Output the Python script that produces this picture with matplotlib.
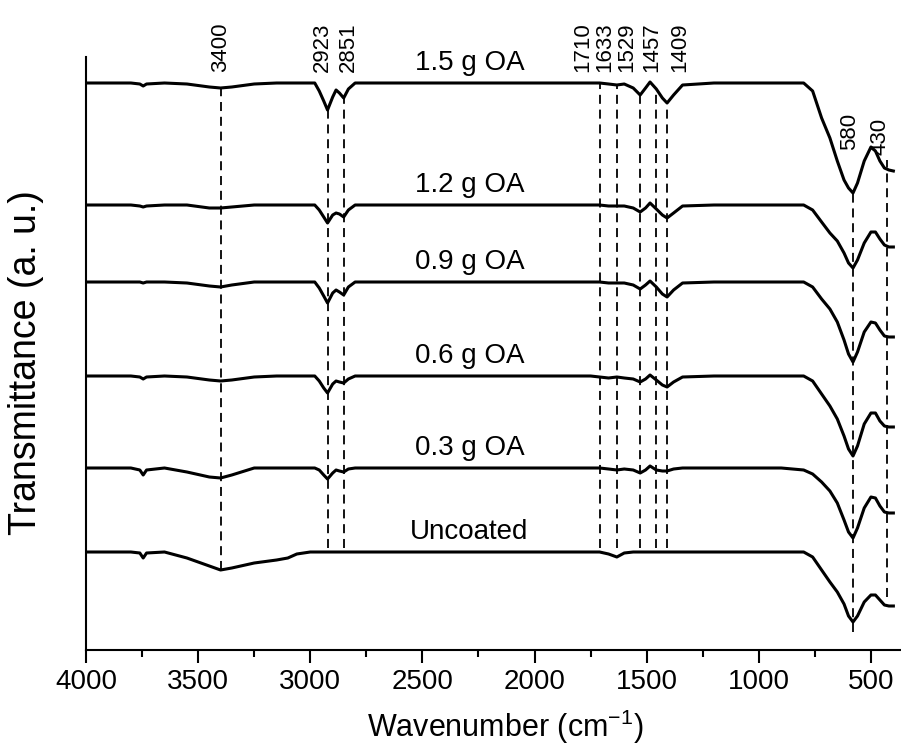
import numpy as np
import matplotlib.pyplot as plt
from matplotlib.ticker import MultipleLocator

plt.rcParams['font.family'] = ['Liberation Sans', 'DejaVu Sans']

wn = [4000, 3800, 3760, 3745, 3730, 3650, 3550, 3450, 3400, 3350, 3250, 3150, 3100,
      3060, 3000, 2980, 2960, 2940, 2923, 2900, 2885, 2870, 2851, 2830, 2800, 2700,
      2000, 1750, 1710, 1670, 1633, 1600, 1560, 1529, 1505, 1485, 1457, 1430, 1409,
      1380, 1340, 1200, 900,
      800, 760, 720, 683, 650, 620, 600, 580, 560, 530, 500, 480, 460, 440, 420, 400]

# absorption depth below each baseline (a. u.)
depth_15 = [0, 0, 1, 3, 1, 0, 1, 4, 5, 4, 1, 0, 0,
            0, 0, 0, 8, 18, 27, 14, 7, 10, 15, 6, 0, 0,
            0, 0, 0, 1, 2, 1, 5, 12, 5, -1, 6, 15, 20,
            12, 2, 0, 0,
            0, 8, 35, 55, 78, 97, 105, 110, 100, 78, 64, 68, 78, 85, 87, 88]
depth_12 = [0, 0, 1, 2, 1, 0, 0, 3, 3, 2, 0, 0, 0,
            0, 0, 0, 5, 12, 18, 10, 8, 9, 12, 5, 0, 0,
            0, 0, 0, 1, 1, 1, 3, 7, 3, -2, 4, 10, 13,
            8, 1, 0, 0,
            0, 5, 17, 28, 36, 48, 58, 63, 55, 38, 27, 27, 34, 40, 42, 42]
depth_09 = [0, 0, 0, 1, 0, 0, 1, 4, 5, 3, 0, 0, 0,
            0, 0, 0, 6, 14, 21, 11, 8, 10, 13, 5, 0, 0,
            0, 0, 0, 1, 1, 1, 3, 7, 3, -1, 5, 12, 15,
            8, 1, 0, 0,
            0, 5, 17, 27, 40, 58, 72, 80, 70, 50, 40, 41, 48, 54, 55, 55]
depth_06 = [0, 0, 1, 3, 1, 0, 1, 4, 5, 4, 1, 0, 0,
            0, 0, 0, 5, 12, 17, 8, 5, 6, 7, 3, 0, 0,
            0, 0, 1, 2, 1, 2, 3, 6, 3, -1, 4, 9, 11,
            6, 1, 0, 0,
            0, 5, 18, 30, 43, 60, 73, 80, 70, 48, 37, 37, 45, 50, 51, 51]
depth_03 = [0, 0, 2, 7, 2, 0, 4, 9, 10, 7, 0, 0, 0,
            0, 0, 0, 2, 7, 11, 5, 2, 3, 4, 1, 0, 0,
            0, 0, 0, 1, 2, 1, 2, 5, 2, -2, 2, 3, 3,
            1, 0, 0, 0,
            2, 6, 14, 23, 35, 52, 64, 70, 60, 40, 29, 30, 38, 44, 45, 45]
depth_00 = [0, 0, 1, 6, 1, 0, 6, 14, 18, 16, 11, 8, 6,
            2, 0, 0, 0, 0, 0, 0, 0, 0, 0, 0, 0, 0,
            0, 0, 0, 2, 5, 1, 0, 0, 0, 0, 0, 0, 0,
            0, 0, 0, 0,
            0, 5, 18, 30, 40, 52, 64, 70, 64, 50, 43, 43, 48, 53, 54, 54]

samples = ['1.5 g OA', '1.2 g OA', '0.9 g OA', '0.6 g OA', '0.3 g OA', 'Uncoated']
depths = [depth_15, depth_12, depth_09, depth_06, depth_03, depth_00]
baselines = [567, 445, 368, 274, 182, 98]

# marked bands: wavenumber, top and bottom of the dashed guide (a. u.)
peaks = [3400, 2923, 2851, 1710, 1633, 1529, 1457, 1409, 580, 430]
peak_top = [564, 540, 552, 566, 566, 556, 560, 548, 458, 490]
peak_bottom = [80, 102, 102, 102, 102, 102, 102, 102, 18, 53]
# label placement (x in cm-1, bottom of rotated text)
peak_label_x = [3400, 2948, 2832, 1785, 1688, 1590, 1477, 1352, 594, 460]
peak_label_y = [578, 578, 578, 578, 578, 578, 578, 578, 500, 495]

fig = plt.figure(figsize=(9.01, 7.56), dpi=100)
ax = fig.add_axes([86 / 901, 1 - 650 / 756, 1 - 86 / 901, 593 / 756])

for name, d, base in zip(samples, depths, baselines):
    y = base - np.array(d, dtype=float)
    ax.plot(wn, y, color='black', lw=2.2, solid_joinstyle='round')
    ax.text(2290, base + 13, name, ha='center', va='baseline', fontsize=20)

for p, top, bot, lx, ly in zip(peaks, peak_top, peak_bottom, peak_label_x, peak_label_y):
    ax.plot([p, p], [bot, top], color='black', lw=1.3, dashes=(5, 3.2))
    ax.text(lx, ly, str(p), rotation=90, ha='center', va='bottom', fontsize=16)

ax.set_xlim(4000, 366)
ax.set_ylim(0, 593)
ax.xaxis.set_major_locator(MultipleLocator(500))
ax.xaxis.set_minor_locator(MultipleLocator(250))
ax.set_xticks(np.arange(4000, 499, -500))
ax.tick_params(axis='x', which='major', direction='out', length=9, width=1.5,
               labelsize=20, pad=5)
ax.tick_params(axis='x', which='minor', direction='out', length=5, width=1.5)
ax.set_yticks([])
for side in ['top', 'right']:
    ax.spines[side].set_visible(False)
for side in ['left', 'bottom']:
    ax.spines[side].set_linewidth(1.5)

ax.set_xlabel('Wavenumber (cm$^{\\mathregular{-1}}$)', fontsize=22)
ax.set_ylabel('Transmittance (a. u.)', fontsize=27)
ax.xaxis.set_label_coords((505 - 86) / 815, -0.098)
ax.yaxis.set_label_coords(-(86 - 44) / 815, 0.485)

fig.savefig('out.png', dpi=100)
